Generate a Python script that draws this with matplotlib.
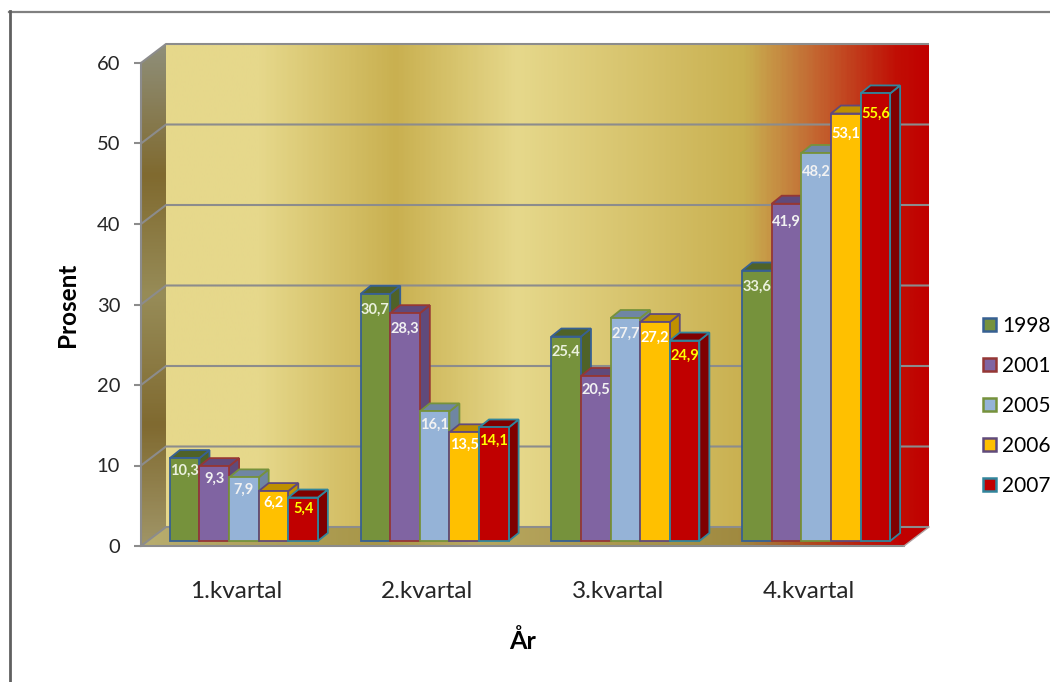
#!/usr/bin/env python3

import matplotlib
matplotlib.use("Agg")
import matplotlib.pyplot as plt
import numpy as np
from matplotlib.colors import LinearSegmentedColormap
from matplotlib.lines import Line2D
from matplotlib.patches import Patch, Polygon

kvartal = ["1.kvartal", "2.kvartal", "3.kvartal", "4.kvartal"]
years = ["1998", "2001", "2005", "2006", "2007"]
v1998 = [10.3, 30.7, 25.4, 33.6]
v2001 = [9.3, 28.3, 20.5, 41.9]
v2005 = [7.9, 16.1, 27.7, 48.2]
v2006 = [6.2, 13.5, 27.2, 53.1]
v2007 = [5.4, 14.1, 24.9, 55.6]
yticks = [0, 10, 20, 30, 40, 50, 60]
labels = ["10,3", "30,7", "25,4", "33,6", "9,3", "28,3", "20,5", "41,9", "7,9", "16,1",
          "27,7", "48,2", "6,2", "13,5", "27,2", "53,1", "5,4", "14,1", "24,9", "55,6"]

face = ["#76923C", "#8064A2", "#95B3D7", "#FFC000", "#C00000"]
edge = ["#376092", "#953735", "#76923C", "#604A7B", "#31859C"]
dark = ["#4F6228", "#604A7B", "#6F86A3", "#BF9000", "#7F0000"]
text_col = ["#EBF1DE", "#F2F2F2", "#F2F2F2", "#FFFFFF", "#FFFF00"]
grey = "#8C8C8C"

plt.rcParams["font.family"] = ["Lato", "DejaVu Sans"]

fig = plt.figure(figsize=(10.5, 6.82), dpi=100)
# the axes is the front plane of the 3d box, px 141-904 and 63-546
ax = fig.add_axes([141 / 1050, (682 - 546) / 682, 763 / 1050, 483 / 682])
sx = 763 / 4
sy = 483 / 60


def px(dx, dy):
    return dx / sx, dy / sy


wall_x, wall_y = px(25, 19)
bar_x, bar_y = px(7.5, 5)
bar_w = 29.6 / sx
bar_dx, bar_dy = px(10, 8)
x0, x1 = -0.5, 3.5
y0, y1 = 0, 60


def shaded(corners, stops, extent, vertical=False):
    cmap = LinearSegmentedColormap.from_list("g", stops)
    g = np.linspace(0, 1, 400)
    g = g[:, None] if vertical else g[None, :]
    im = ax.imshow(g, cmap=cmap, extent=extent, aspect="auto", origin="upper", zorder=1)
    poly = Polygon(corners, transform=ax.transData, fc="none", ec="none")
    ax.add_patch(poly)
    # the walls stick out of the axes, so clip to the figure and the polygon only
    im.set_clip_box(fig.bbox)
    im.set_clip_path(poly)


back_stops = [(0, "#E6D88B"), (0.12, "#E6D88B"), (0.30, "#C9B050"), (0.46, "#E6D88B"),
              (0.76, "#C9B050"), (0.83, "#C4793A"), (0.96, "#C00F05"), (1, "#C00000")]
floor_stops = [(0, "#B8AD6F"), (0.30, "#A89648"), (0.42, "#B8A860"), (0.76, "#A08A40"),
               (0.85, "#B04A20"), (0.97, "#C00000"), (1, "#C00000")]
wall_stops = [(0, "#8F8F7A"), (0.26, "#806A2F"), (0.5, "#978C58"), (0.76, "#806A30"),
              (1, "#A09567")]

shaded([(x0 + wall_x, y0 + wall_y), (x0 + wall_x, y1 + wall_y), (x1 + wall_x, y1 + wall_y), (x1 + wall_x, y0 + wall_y)],
       back_stops, (x0 + wall_x, x1 + wall_x, y0 + wall_y, y1 + wall_y))
shaded([(x0, y0), (x0 + wall_x, y0 + wall_y), (x1 + wall_x, y0 + wall_y), (x1, y0)],
       floor_stops, (x0, x1 + wall_x, y0, y0 + wall_y))
shaded([(x0, y0), (x0, y1), (x0 + wall_x, y1 + wall_y), (x0 + wall_x, y0 + wall_y)],
       wall_stops, (x0, x0 + wall_x, y0, y1 + wall_y), vertical=True)

for t in yticks:
    ax.plot([x0, x0 + wall_x, x1 + wall_x], [t, t + wall_y, t + wall_y], color=grey, lw=1.5,
            clip_on=False, zorder=2, solid_capstyle="butt")
ax.plot([x0, x0], [y0, y1], color=grey, lw=1.5, clip_on=False, zorder=2)
ax.plot([x0, x1], [y0, y0], color=grey, lw=1.5, clip_on=False, zorder=2)
ax.plot([x1, x1 + wall_x], [y0, y0 + wall_y], color="#B0A0A0", lw=1, clip_on=False, zorder=2)

series = [v1998, v2001, v2005, v2006, v2007]
order = 3
for i, vals in enumerate(series):
    for g, v in enumerate(vals):
        left = g + bar_x - 2.5 * bar_w + i * bar_w
        right = left + bar_w
        top = bar_y + v
        lw = 1.3
        # right side and top of the bar, then the front over them
        ax.add_patch(Polygon([(right, bar_y), (right + bar_dx, bar_y + bar_dy), (right + bar_dx, top + bar_dy), (right, top)],
                             fc=dark[i], ec=edge[i], lw=lw, clip_on=False, zorder=order))
        ax.add_patch(Polygon([(left, top), (left + bar_dx, top + bar_dy), (right + bar_dx, top + bar_dy), (right, top)],
                             fc=dark[i], ec=edge[i], lw=lw, clip_on=False, zorder=order))
        ax.bar(left, v, width=bar_w, bottom=bar_y, align="edge", color=face[i], edgecolor=edge[i],
               linewidth=lw, clip_on=False, zorder=order + 0.5)
        ax.text(left + bar_w / 2, top - (10.5 + 0.18 * v) / sy, labels[i * 4 + g], color=text_col[i],
                fontsize=10.5, fontweight="bold", ha="center", va="center", zorder=50)
    order += 1

ax.set_xlim(x0, x1)
ax.set_ylim(y0, y1)
ax.set_xticks(range(4), kvartal)
ax.set_yticks(yticks)
ax.tick_params(axis="x", length=0, pad=25, labelsize=17.5, labelcolor="#262626")
ax.tick_params(axis="y", length=5, width=1.5, color=grey, pad=10, labelsize=14.5, labelcolor="#262626")
for s in ax.spines.values():
    s.set_visible(False)
ax.patch.set_visible(False)
ax.set_xlabel("År", fontsize=18, fontweight="bold", labelpad=20, x=0.5)
ax.set_ylabel("Prosent", fontsize=17.5, fontweight="bold", labelpad=12.5)

handles = [Patch(fc=face[i], ec=edge[i], lw=1.8) for i in range(5)]
fig.legend(handles, years, loc="center left", bbox_to_anchor=(983 / 1050, 1 - 406 / 682), frameon=False,
           fontsize=15, handlelength=0.62, handleheight=0.62, handletextpad=0.3, labelspacing=0.96,
           borderpad=0, borderaxespad=0, labelcolor="black")

# screenshot frame on top and left
fig.add_artist(Line2D([8.5 / 1050, 1], [1 - 12 / 682, 1 - 12 / 682], color="#808080", lw=1.6))
fig.add_artist(Line2D([9.5 / 1050, 9.5 / 1050], [0, 1 - 11 / 682], color="#606060", lw=2))

fig.savefig("out.png", dpi=100)
